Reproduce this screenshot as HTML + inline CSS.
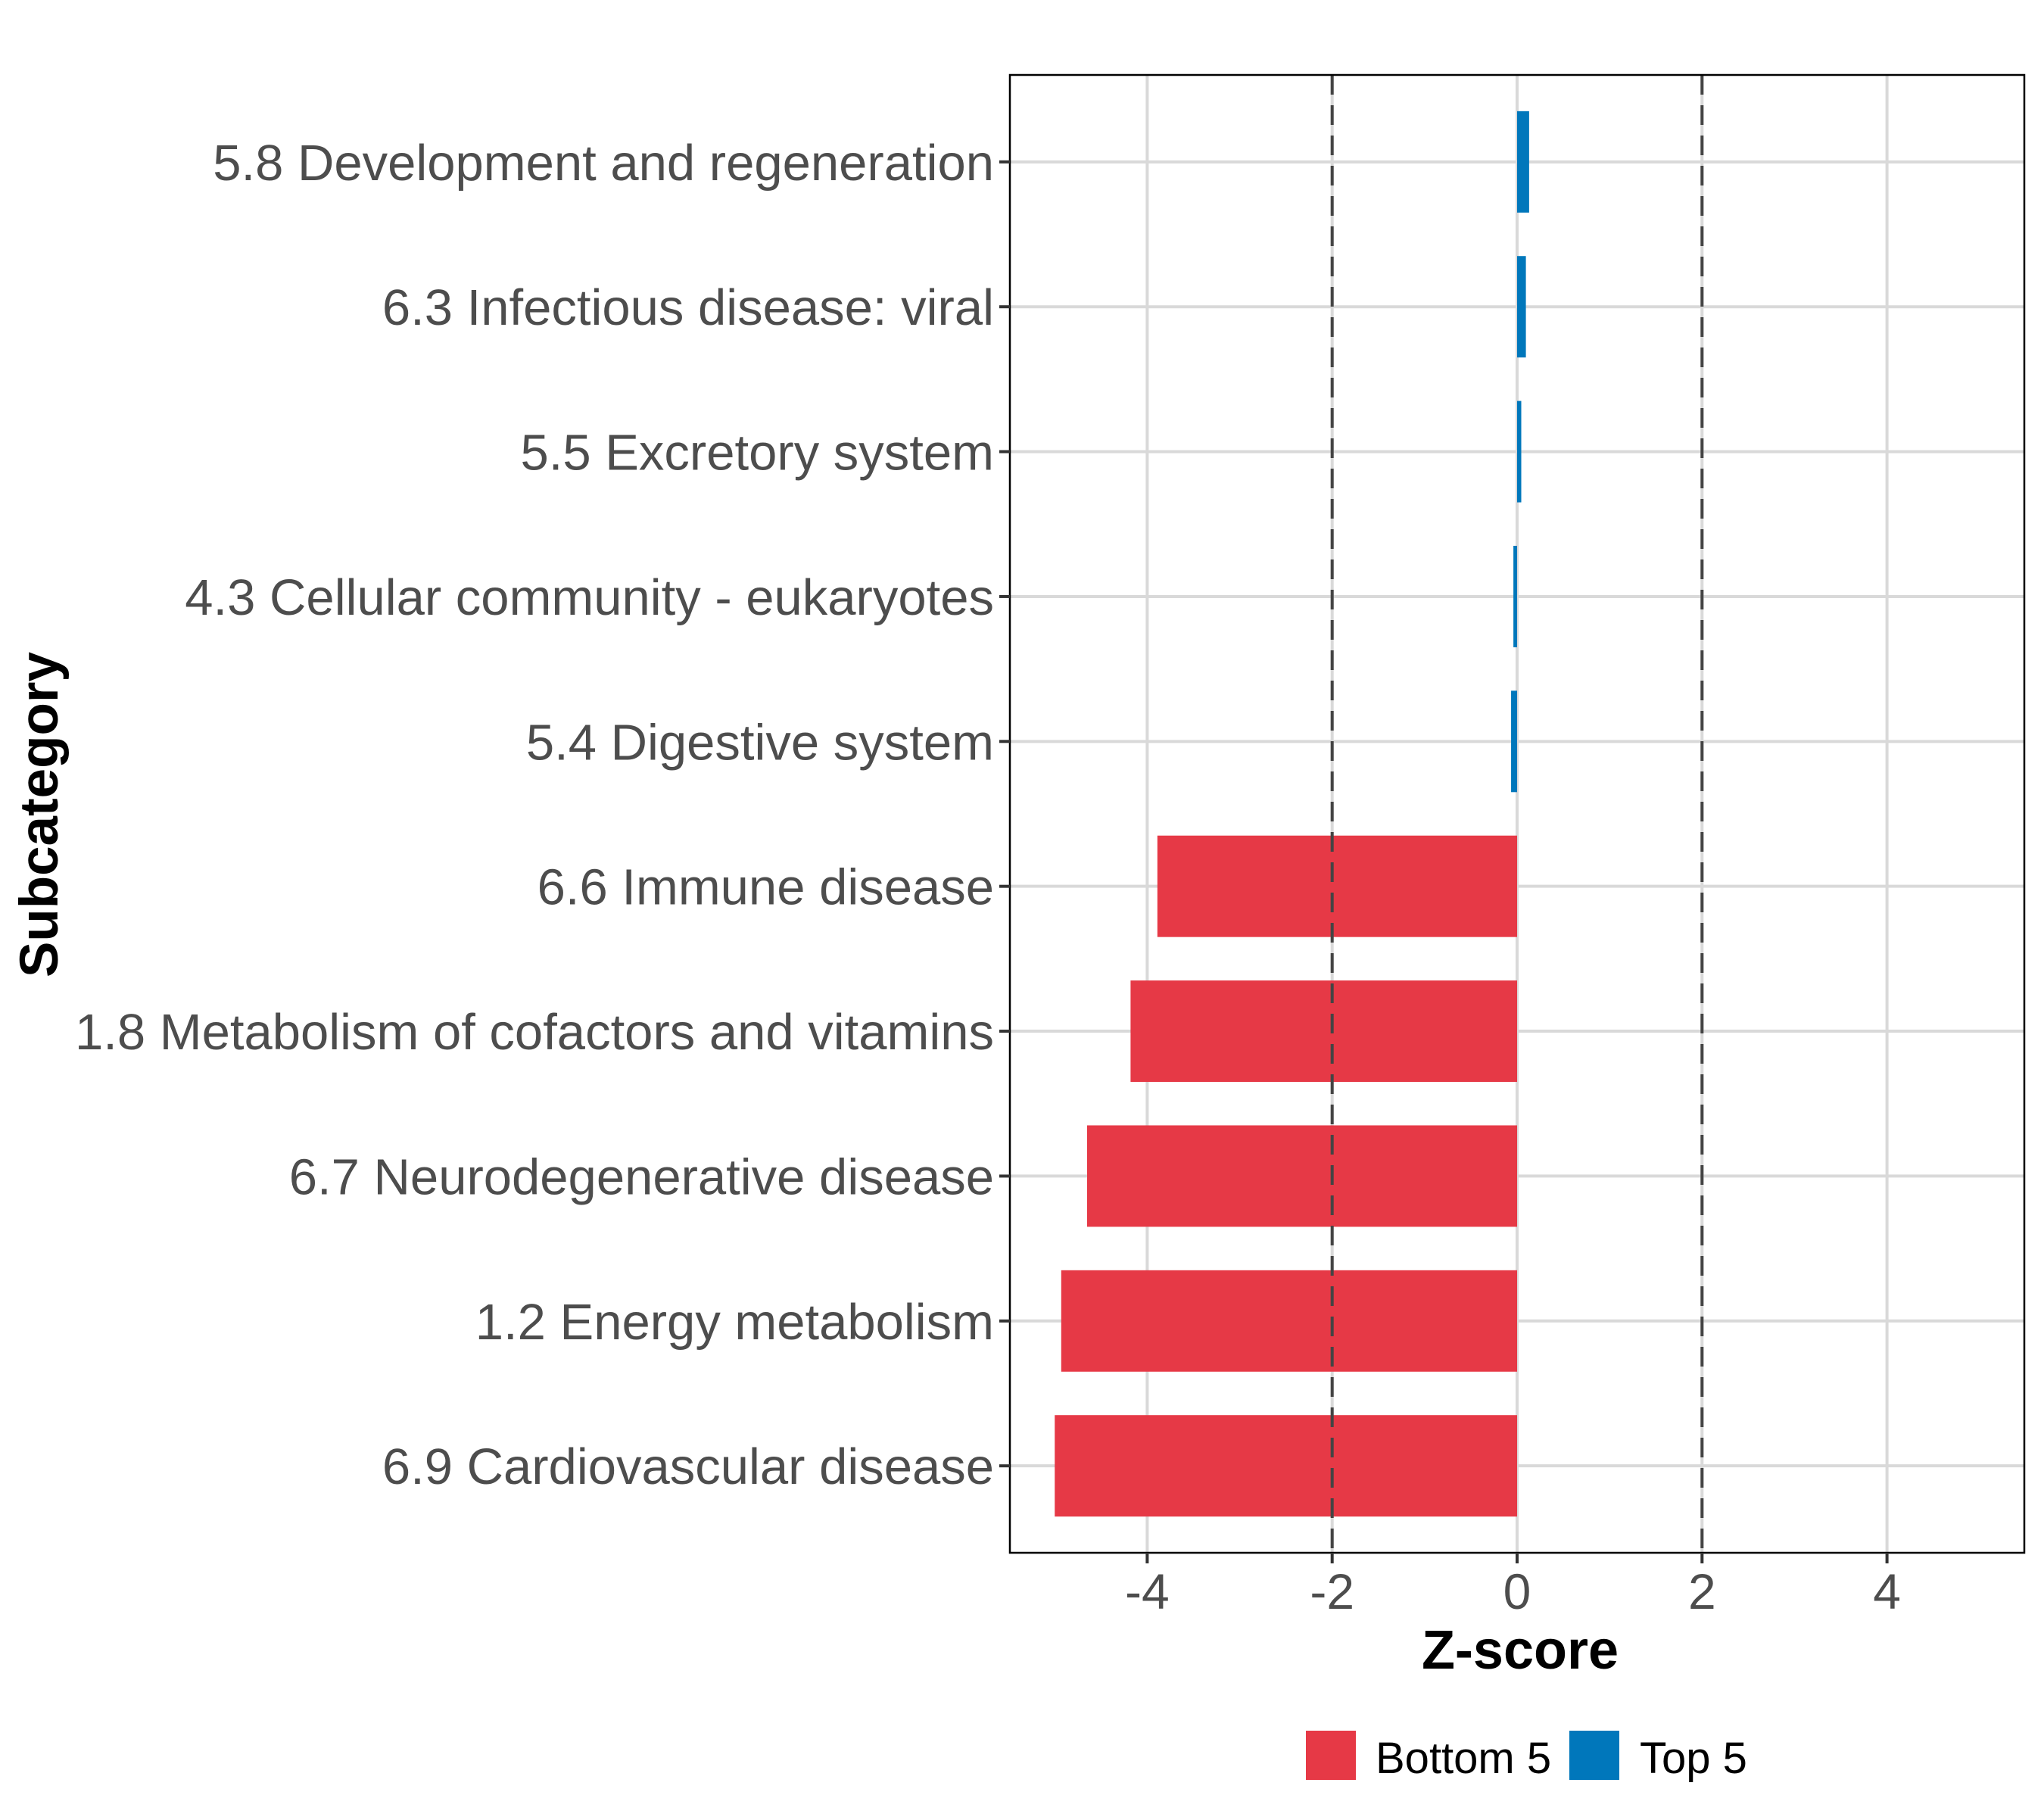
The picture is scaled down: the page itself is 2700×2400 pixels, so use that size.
<!DOCTYPE html>
<html><head><meta charset="utf-8"><style>
html,body{margin:0;padding:0;background:#fff}
svg{display:block;font-family:"Liberation Sans",Arial,sans-serif}
</style></head><body>
<svg id="chart" width="2700" height="2400" viewBox="0 0 2700 2400">
<rect x="0" y="0" width="2700" height="2400" fill="#fff"/>
<g id="grid"></g>
<g id="bars"></g>
<g id="refs"></g>
<rect id="panel" fill="none" stroke="#000" stroke-width="2.5"/>
<g id="yaxis"></g>
<g id="xaxis"></g>
<text x="2008" y="2204" text-anchor="middle" font-size="72" font-weight="bold" fill="#000">Z-score</text>
<text transform="translate(76,1076) rotate(-90)" text-anchor="middle" font-size="71" font-weight="bold" fill="#000">Subcategory</text>
<g>
<rect x="1725" y="2286" width="66" height="65" fill="#E63946"/>
<text x="1817" y="2342" font-size="58" fill="#000">Bottom 5</text>
<rect x="2073" y="2286" width="66" height="65" fill="#0077BB"/>
<text x="2166" y="2342" font-size="58" fill="#000">Top 5</text>
</g>
</svg>
<script>
const categories = ["5.8 Development and regeneration","6.3 Infectious disease: viral","5.5 Excretory system","4.3 Cellular community - eukaryotes","5.4 Digestive system","6.6 Immune disease","1.8 Metabolism of cofactors and vitamins","6.7 Neurodegenerative disease","1.2 Energy metabolism","6.9 Cardiovascular disease"];
const zscores = [0.13, 0.095, 0.045, -0.04, -0.065, -3.89, -4.18, -4.65, -4.93, -5.0];
const groups = ["Top 5","Top 5","Top 5","Top 5","Top 5","Bottom 5","Bottom 5","Bottom 5","Bottom 5","Bottom 5"];
const xTicks = [-4, -2, 0, 2, 4];
const xTickLabels = ["-4", "-2", "0", "2", "4"];
const refLines = [-2, 2];

const NS = "http://www.w3.org/2000/svg";
const PL = 1334, PR = 2674, PT = 99, PB = 2051;
const XMIN = -5.485, XMAX = 5.485;
function xs(v){ return PL + (v - XMIN) / (XMAX - XMIN) * (PR - PL); }
const band = (PB - PT) / (categories.length - 1 + 1.2);
function ys(i){ return PT + (0.6 + i) * band; }
const colors = {"Top 5":"#0077BB","Bottom 5":"#E63946"};
function mk(tag, attrs, parent){ const e = document.createElementNS(NS, tag); for (const k in attrs) e.setAttribute(k, attrs[k]); parent.appendChild(e); return e; }

const panel = document.getElementById('panel');
panel.setAttribute('x', PL); panel.setAttribute('y', PT);
panel.setAttribute('width', PR - PL); panel.setAttribute('height', PB - PT);

const grid = document.getElementById('grid');
xTicks.forEach(t => {
  const l = mk('line', {x1: xs(t), x2: xs(t), y1: PT, y2: PB, stroke: '#d9d9d9', 'stroke-width': 4}, grid);
  
  
});
categories.forEach((c, i) => {
  const l = mk('line', {x1: PL, x2: PR, y1: ys(i), y2: ys(i), stroke: '#d9d9d9', 'stroke-width': 4}, grid);
  
  
});

const bars = document.getElementById('bars');
const bh = band * 0.7;
zscores.forEach((v, i) => {
  const x0 = Math.min(xs(0), xs(v)), w = Math.abs(xs(v) - xs(0));
  const r = mk('rect', {x: x0, y: ys(i) - bh/2, width: Math.max(w, 1), height: bh, fill: colors[groups[i]]}, bars);
  
  
});

const refs = document.getElementById('refs');
refLines.forEach(v => {
  const l = mk('line', {x1: xs(v), x2: xs(v), y1: PT, y2: PB, stroke: '#444', 'stroke-width': 4, 'stroke-dasharray': '26 14'}, refs);
  
  
});

const ya = document.getElementById('yaxis');
categories.forEach((c, i) => {
  const t = mk('line', {x1: PL - 14, x2: PL, y1: ys(i), y2: ys(i), stroke: '#333', 'stroke-width': 4}, ya);
  
  
  const tx = mk('text', {x: 1313, y: ys(i) + 24, 'text-anchor': 'end', 'font-size': 67, fill: '#4d4d4d'}, ya);
  tx.textContent = c;
  
  
});

const xa = document.getElementById('xaxis');
xTicks.forEach((t, i) => {
  const l = mk('line', {x1: xs(t), x2: xs(t), y1: PB, y2: PB + 14, stroke: '#333', 'stroke-width': 4}, xa);
  
  
  const tx = mk('text', {x: xs(t), y: 2125, 'text-anchor': 'middle', 'font-size': 66, fill: '#4d4d4d'}, xa);
  tx.textContent = xTickLabels[i];
  
  
});
</script>
</body></html>
